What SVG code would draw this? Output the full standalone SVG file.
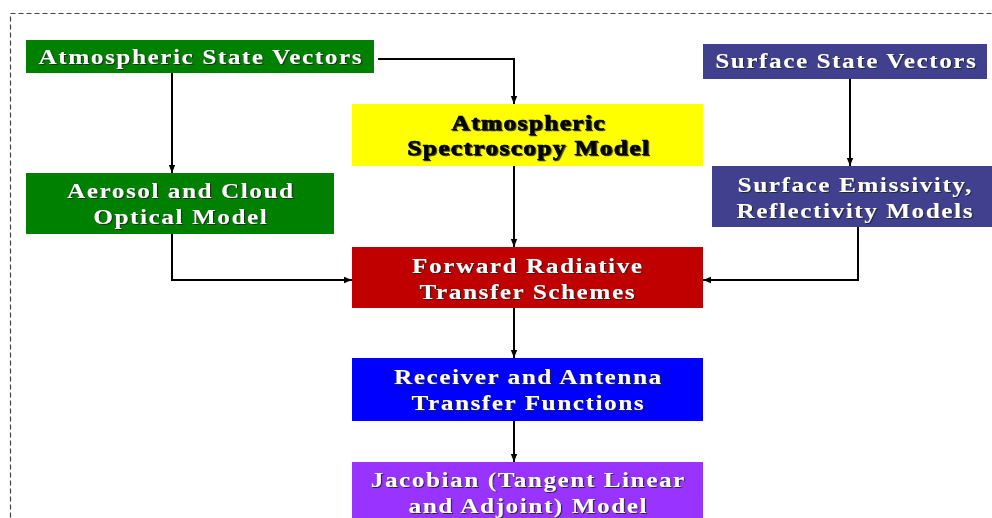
<svg xmlns="http://www.w3.org/2000/svg" width="992" height="518" viewBox="0 0 992 518">
<style>
.t{font-family:"Liberation Serif","Times New Roman",serif;font-weight:bold;font-size:21px;letter-spacing:1.3px;text-anchor:middle;fill:#fff;filter:url(#sh)}
.k{fill:#000;stroke:#000;stroke-width:0.6px;letter-spacing:1.2px}
.c{fill:none;stroke:#000;stroke-width:2}
</style>
<defs>
<filter id="sh" x="-10%" y="-30%" width="120%" height="160%">
<feDropShadow dx="1" dy="1" stdDeviation="0.4" flood-color="#222" flood-opacity="0.9"/>
</filter>
<marker id="a" viewBox="0 0 10 10" refX="10" refY="5" markerWidth="8" markerHeight="8" orient="auto" markerUnits="userSpaceOnUse">
<path d="M0,1L10,5L0,9z" fill="#000"/>
</marker>
</defs>
<rect width="992" height="518" fill="#fff"/>
<rect x="10.5" y="13.5" width="1000" height="520" fill="none" stroke="#444" stroke-width="1.2" stroke-dasharray="5,3"/>
<g id="connectors">
<path class="c" d="M378,59H514V104" marker-end="url(#a)"/>
<path class="c" d="M172,73V173" marker-end="url(#a)"/>
<path class="c" d="M850,79V166" marker-end="url(#a)"/>
<path class="c" d="M172,234V280H352" marker-end="url(#a)"/>
<path class="c" d="M858,227V280H703" marker-end="url(#a)"/>
<path class="c" d="M514,166V247" marker-end="url(#a)"/>
<path class="c" d="M514,308V358" marker-end="url(#a)"/>
<path class="c" d="M514,421V462" marker-end="url(#a)"/>
</g>
<g id="asv">
<rect x="26" y="40" width="348" height="33" fill="#008000"/>
<text class="t" transform="translate(200.8,64) scale(1.2,1)">Atmospheric State Vectors</text>
</g>
<g id="ssv">
<rect x="703" y="44" width="284" height="35" fill="#40408F"/>
<text class="t" transform="translate(846.3,68) scale(1.2,1)">Surface State Vectors</text>
</g>
<g id="asm">
<rect x="352" y="104" width="351" height="62" fill="#FFFF00"/>
<text class="t k" transform="translate(528.8,130) scale(1.2,1)">Atmospheric</text>
<text class="t k" transform="translate(528.8,155) scale(1.2,1)">Spectroscopy Model</text>
</g>
<g id="aco">
<rect x="26" y="173" width="308" height="61" fill="#008000"/>
<text class="t" transform="translate(180.8,198) scale(1.2,1)">Aerosol and Cloud</text>
<text class="t" transform="translate(180.8,224) scale(1.2,1)">Optical Model</text>
</g>
<g id="sem">
<rect x="712" y="166" width="280" height="61" fill="#40408F"/>
<text class="t" transform="translate(855.3,191.5) scale(1.2,1)">Surface Emissivity,</text>
<text class="t" transform="translate(855.3,217.5) scale(1.2,1)">Reflectivity Models</text>
</g>
<g id="frt">
<rect x="352" y="247" width="351" height="61" fill="#C00000"/>
<text class="t" transform="translate(527.8,273) scale(1.2,1)">Forward Radiative</text>
<text class="t" transform="translate(527.8,298.5) scale(1.2,1)">Transfer Schemes</text>
</g>
<g id="rat">
<rect x="352" y="358" width="351" height="63" fill="#0000FF"/>
<text class="t" transform="translate(528.3,383.5) scale(1.2,1)">Receiver and Antenna</text>
<text class="t" transform="translate(528.3,410) scale(1.2,1)">Transfer Functions</text>
</g>
<g id="jac">
<rect x="352" y="462" width="351" height="62" fill="#9933FF"/>
<text class="t" transform="translate(528.3,487) scale(1.2,1)">Jacobian (Tangent Linear</text>
<text class="t" transform="translate(528.3,513) scale(1.2,1)">and Adjoint) Model</text>
</g>
</svg>
